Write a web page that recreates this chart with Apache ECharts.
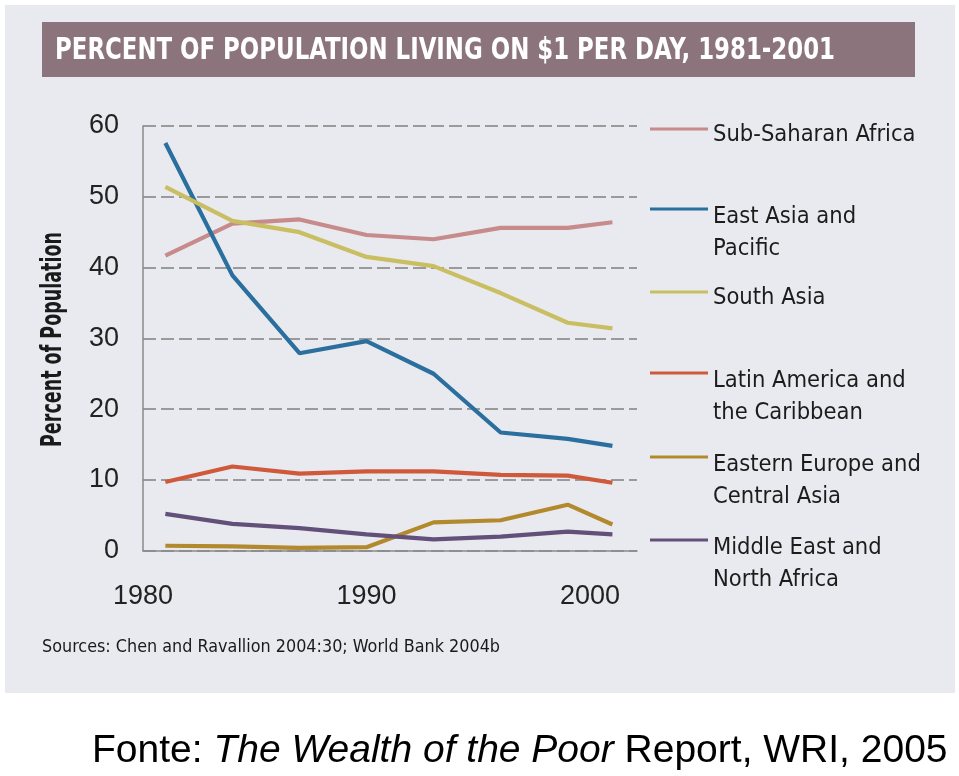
<!DOCTYPE html>
<html>
<head>
<meta charset="utf-8">
<script src="https://cdn.jsdelivr.net/npm/echarts@6/dist/echarts.min.js"></script>
<style>
  html, body { margin: 0; padding: 0; background: #ffffff; }
  #chart { width: 959px; height: 776px; }
</style>
</head>
<body>
<div id="chart"></div>
<script>
// ---- data ----
const years = [1981, 1984, 1987, 1990, 1993, 1996, 1999, 2001];
const regionNames = [
  'Sub-Saharan Africa',
  'East Asia and Pacific',
  'South Asia',
  'Latin America and the Caribbean',
  'Eastern Europe and Central Asia',
  'Middle East and North Africa'
];
const legendLines = [
  ['Sub-Saharan Africa'],
  ['East Asia and', 'Pacific'],
  ['South Asia'],
  ['Latin America and', 'the Caribbean'],
  ['Eastern Europe and', 'Central Asia'],
  ['Middle East and', 'North Africa']
];
const subSaharanAfrica = [41.7, 46.2, 46.8, 44.6, 44.0, 45.6, 45.6, 46.4];
const eastAsiaPacific  = [57.6, 38.9, 27.9, 29.6, 25.0, 16.7, 15.8, 14.8];
const southAsia        = [51.4, 46.6, 45.0, 41.5, 40.2, 36.4, 32.2, 31.4];
const latinAmerica     = [9.7, 11.9, 10.9, 11.2, 11.2, 10.7, 10.6, 9.6];
const easternEurope    = [0.7, 0.6, 0.4, 0.5, 4.0, 4.3, 6.5, 3.7];
const middleEast       = [5.2, 3.8, 3.2, 2.3, 1.6, 2.0, 2.7, 2.3];
const xTickLabels = [1980, 1990, 2000];
const yTickLabels = [0, 10, 20, 30, 40, 50, 60];

const titleText = 'PERCENT OF POPULATION LIVING ON $1 PER DAY, 1981-2001';
const yAxisTitle = 'Percent of Population';
const sourcesText = 'Sources: Chen and Ravallion 2004:30; World Bank 2004b';

// ---- styling ----
const seriesValues = [subSaharanAfrica, eastAsiaPacific, southAsia, latinAmerica, easternEurope, middleEast];
const colors = ['#c68b8a', '#2a6f9e', '#c9bf62', '#cf5a3b', '#b3892d', '#63507a'];
const narrow = "'Liberation Sans Narrow', 'Arial Narrow', 'DejaVu Sans Condensed', sans-serif";
const sans = "'Liberation Sans', Arial, Helvetica, sans-serif";

function fitScale(text, font, target) {
  const c = document.createElement('canvas').getContext('2d');
  c.font = font;
  return target / c.measureText(text).width;
}

const legendIconY = [129, 209, 292, 373, 457, 540];
const legendFont = 23.5, legendLH = 32.5;
const barW = 58, barH = 3;

const legends = regionNames.map((n, i) => {
  const lines = legendLines[i];
  // icon box height: bar sits at the top, text is centred on the box
  const H = lines.length > 1 ? 51 : 15;
  const blockH = lines.length * legendLH;
  const iconPath = 'path://M0,0L' + barW + ',0L' + barW + ',' + barH + 'L0,' + barH + 'Z' +
    'M0,' + (H - 0.05) + 'L0.05,' + (H - 0.05) + 'L0.05,' + H + 'L0,' + H + 'Z';
  const top = legendIconY[i] - barH / 2 + Math.min(0, H / 2 - blockH / 2);
  return {
    data: [{ name: n, icon: iconPath }],
    left: 650,
    top: top,
    padding: 0,
    itemWidth: barW,
    itemHeight: H,
    selectedMode: false,
    formatter: () => lines.join('\n'),
    textStyle: { fontFamily: narrow, fontSize: legendFont, lineHeight: legendLH, color: '#1c1c1c' }
  };
});

const titleFont = 'bold 31px ' + narrow;
const yTitleFont = 'bold 28px ' + narrow;
const srcFont = '17px ' + narrow;

const chart = echarts.init(document.getElementById('chart'), null, { renderer: 'canvas' });
chart.setOption({
  backgroundColor: '#ffffff',
  animation: false,
  graphic: [
    { type: 'rect', z: -10, shape: { x: 5, y: 5, width: 950, height: 688 }, style: { fill: '#e9eaef' } },
    { type: 'rect', z: -5, shape: { x: 42, y: 22, width: 873, height: 55 }, style: { fill: '#8b747c' } },
    { type: 'text', x: 55, y: 51, scaleX: fitScale(titleText, titleFont, 780),
      style: { text: titleText, x: 0, y: 0, fill: '#ffffff', font: titleFont, textVerticalAlign: 'middle' } },
    { type: 'text', x: 54, y: 339.5, rotation: Math.PI / 2, scaleX: fitScale(yAxisTitle, yTitleFont, 215),
      style: { text: yAxisTitle, x: 0, y: 0, fill: '#1a1a1a', font: yTitleFont, textAlign: 'center', textVerticalAlign: 'middle' } },
    { type: 'text', x: 42, y: 648, scaleX: fitScale(sourcesText, srcFont, 458),
      style: { text: sourcesText, x: 0, y: 0, fill: '#1a1a1a', font: srcFont, textVerticalAlign: 'middle' } },
    { type: 'text', x: 92, y: 751,
      style: {
        text: '{a|Fonte: }{i|The Wealth of the Poor}{a| Report, WRI, 2005}',
        x: 0, y: 0, textVerticalAlign: 'middle',
        rich: {
          a: { fontFamily: sans, fontSize: 39, fill: '#000', color: '#000' },
          i: { fontFamily: sans, fontSize: 39, fontStyle: 'italic', fill: '#000', color: '#000' }
        }
      } }
  ],
  legend: legends,
  grid: { left: 143, top: 126, width: 494, height: 424.7, containLabel: false },
  xAxis: {
    type: 'value', min: 1980, max: 2002.1, interval: 10,
    axisLine: { show: true, lineStyle: { color: '#8a8a8a', width: 1.5 } },
    axisTick: { show: false },
    splitLine: { show: false },
    axisLabel: {
      margin: 32, fontFamily: sans, fontSize: 27, color: '#222',
      formatter: v => (xTickLabels.indexOf(v) >= 0 ? String(v) : '')
    }
  },
  yAxis: {
    type: 'value', min: 0, max: 60, interval: 10,
    axisLine: { show: true, lineStyle: { color: '#8a8a8a', width: 1.5 } },
    axisTick: { show: false },
    splitLine: { show: true, lineStyle: { color: '#808080', width: 1.5, type: [13, 5] } },
    axisLabel: {
      margin: 24, fontFamily: sans, fontSize: 27, color: '#222',
      formatter: v => (yTickLabels.indexOf(v) >= 0 ? String(v) : '')
    }
  },
  series: regionNames.map((n, i) => ({
    name: n,
    type: 'line',
    color: colors[i],
    symbol: 'none',
    lineStyle: { width: 4.2, color: colors[i] },
    data: years.map((y, k) => [y, seriesValues[i][k]])
  }))
});
</script>
</body>
</html>
